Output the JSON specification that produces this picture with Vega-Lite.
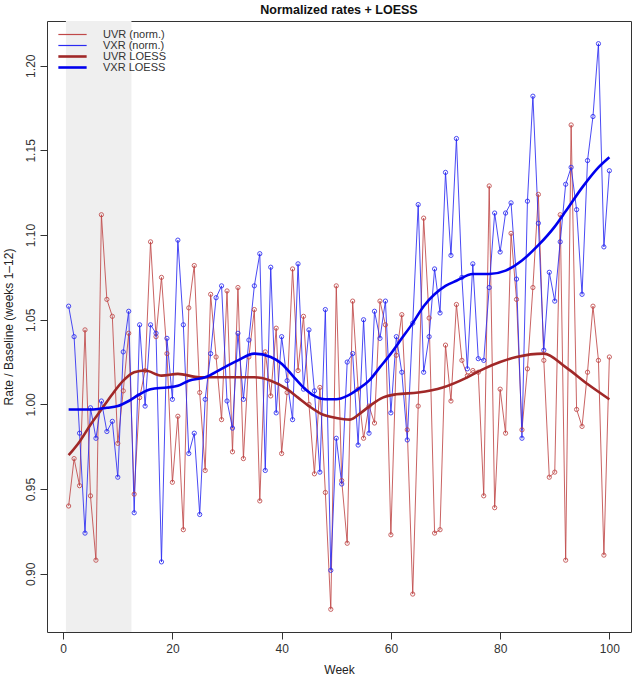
{
  "$schema": "https://vega.github.io/schema/vega-lite/v6.json",
  "width": 584,
  "height": 611,
  "autosize": {"type": "none"},
  "padding": {"left": 47, "top": 21, "right": 7, "bottom": 48},
  "background": "white",
  "title": {"text": "Normalized rates + LOESS", "fontSize": 12.5, "font": "Liberation Sans", "fontWeight": "bold", "color": "#111", "offset": 5},
  "datasets": {
    "band": [{"start": 0.5, "end": 12.5, "lo": 0.8656, "hi": 1.2264}],
    "ref": [{"ref": 1}],
    "norm": [
      {"week":1,"series":"UVR (norm.)","value":0.940},{"week":2,"series":"UVR (norm.)","value":0.968},{"week":3,"series":"UVR (norm.)","value":0.952},{"week":4,"series":"UVR (norm.)","value":1.044},{"week":5,"series":"UVR (norm.)","value":0.946},
      {"week":6,"series":"UVR (norm.)","value":0.908},{"week":7,"series":"UVR (norm.)","value":1.112},{"week":8,"series":"UVR (norm.)","value":1.062},{"week":9,"series":"UVR (norm.)","value":1.052},{"week":10,"series":"UVR (norm.)","value":0.977},
      {"week":11,"series":"UVR (norm.)","value":1.008},{"week":12,"series":"UVR (norm.)","value":1.042},{"week":13,"series":"UVR (norm.)","value":0.947},{"week":14,"series":"UVR (norm.)","value":1.004},{"week":15,"series":"UVR (norm.)","value":1.020},
      {"week":16,"series":"UVR (norm.)","value":1.096},{"week":17,"series":"UVR (norm.)","value":1.040},{"week":18,"series":"UVR (norm.)","value":1.075},{"week":19,"series":"UVR (norm.)","value":1.030},{"week":20,"series":"UVR (norm.)","value":0.954},
      {"week":21,"series":"UVR (norm.)","value":0.993},{"week":22,"series":"UVR (norm.)","value":0.926},{"week":23,"series":"UVR (norm.)","value":1.057},{"week":24,"series":"UVR (norm.)","value":1.082},{"week":25,"series":"UVR (norm.)","value":1.007},
      {"week":26,"series":"UVR (norm.)","value":0.961},{"week":27,"series":"UVR (norm.)","value":1.065},{"week":28,"series":"UVR (norm.)","value":1.028},{"week":29,"series":"UVR (norm.)","value":0.991},{"week":30,"series":"UVR (norm.)","value":1.067},
      {"week":31,"series":"UVR (norm.)","value":0.972},{"week":32,"series":"UVR (norm.)","value":1.069},{"week":33,"series":"UVR (norm.)","value":0.968},{"week":34,"series":"UVR (norm.)","value":1.028},{"week":35,"series":"UVR (norm.)","value":1.056},
      {"week":36,"series":"UVR (norm.)","value":0.943},{"week":37,"series":"UVR (norm.)","value":1.031},{"week":38,"series":"UVR (norm.)","value":1.005},{"week":39,"series":"UVR (norm.)","value":1.045},{"week":40,"series":"UVR (norm.)","value":0.971},
      {"week":41,"series":"UVR (norm.)","value":1.007},{"week":42,"series":"UVR (norm.)","value":1.080},{"week":43,"series":"UVR (norm.)","value":1.020},{"week":44,"series":"UVR (norm.)","value":1.052},{"week":45,"series":"UVR (norm.)","value":1.000},
      {"week":46,"series":"UVR (norm.)","value":0.959},{"week":47,"series":"UVR (norm.)","value":1.010},{"week":48,"series":"UVR (norm.)","value":0.948},{"week":49,"series":"UVR (norm.)","value":0.879},{"week":50,"series":"UVR (norm.)","value":1.070},
      {"week":51,"series":"UVR (norm.)","value":0.955},{"week":52,"series":"UVR (norm.)","value":0.918},{"week":53,"series":"UVR (norm.)","value":1.061},{"week":54,"series":"UVR (norm.)","value":1.009},{"week":55,"series":"UVR (norm.)","value":0.980},
      {"week":56,"series":"UVR (norm.)","value":0.999},{"week":57,"series":"UVR (norm.)","value":0.989},{"week":58,"series":"UVR (norm.)","value":1.061},{"week":59,"series":"UVR (norm.)","value":1.047},{"week":60,"series":"UVR (norm.)","value":0.923},
      {"week":61,"series":"UVR (norm.)","value":1.029},{"week":62,"series":"UVR (norm.)","value":1.053},{"week":63,"series":"UVR (norm.)","value":0.985},{"week":64,"series":"UVR (norm.)","value":0.888},{"week":65,"series":"UVR (norm.)","value":0.999},
      {"week":66,"series":"UVR (norm.)","value":1.110},{"week":67,"series":"UVR (norm.)","value":1.051},{"week":68,"series":"UVR (norm.)","value":0.924},{"week":69,"series":"UVR (norm.)","value":0.926},{"week":70,"series":"UVR (norm.)","value":1.035},
      {"week":71,"series":"UVR (norm.)","value":1.002},{"week":72,"series":"UVR (norm.)","value":1.059},{"week":73,"series":"UVR (norm.)","value":1.026},{"week":74,"series":"UVR (norm.)","value":1.017},{"week":75,"series":"UVR (norm.)","value":1.020},
      {"week":76,"series":"UVR (norm.)","value":1.019},{"week":77,"series":"UVR (norm.)","value":0.946},{"week":78,"series":"UVR (norm.)","value":1.129},{"week":79,"series":"UVR (norm.)","value":0.939},{"week":80,"series":"UVR (norm.)","value":1.009},
      {"week":81,"series":"UVR (norm.)","value":0.983},{"week":82,"series":"UVR (norm.)","value":1.101},{"week":83,"series":"UVR (norm.)","value":1.062},{"week":84,"series":"UVR (norm.)","value":0.985},{"week":85,"series":"UVR (norm.)","value":1.021},
      {"week":86,"series":"UVR (norm.)","value":1.069},{"week":87,"series":"UVR (norm.)","value":1.124},{"week":88,"series":"UVR (norm.)","value":1.026},{"week":89,"series":"UVR (norm.)","value":0.957},{"week":90,"series":"UVR (norm.)","value":0.960},
      {"week":91,"series":"UVR (norm.)","value":1.112},{"week":92,"series":"UVR (norm.)","value":0.908},{"week":93,"series":"UVR (norm.)","value":1.165},{"week":94,"series":"UVR (norm.)","value":0.997},{"week":95,"series":"UVR (norm.)","value":0.987},
      {"week":96,"series":"UVR (norm.)","value":1.019},{"week":97,"series":"UVR (norm.)","value":1.058},{"week":98,"series":"UVR (norm.)","value":1.026},{"week":99,"series":"UVR (norm.)","value":0.911},{"week":100,"series":"UVR (norm.)","value":1.028},
      {"week":1,"series":"VXR (norm.)","value":1.058},{"week":2,"series":"VXR (norm.)","value":1.040},{"week":3,"series":"VXR (norm.)","value":0.983},{"week":4,"series":"VXR (norm.)","value":0.924},{"week":5,"series":"VXR (norm.)","value":0.998},
      {"week":6,"series":"VXR (norm.)","value":0.980},{"week":7,"series":"VXR (norm.)","value":1.002},{"week":8,"series":"VXR (norm.)","value":0.984},{"week":9,"series":"VXR (norm.)","value":0.990},{"week":10,"series":"VXR (norm.)","value":0.957},
      {"week":11,"series":"VXR (norm.)","value":1.031},{"week":12,"series":"VXR (norm.)","value":1.055},{"week":13,"series":"VXR (norm.)","value":0.936},{"week":14,"series":"VXR (norm.)","value":1.047},{"week":15,"series":"VXR (norm.)","value":0.999},
      {"week":16,"series":"VXR (norm.)","value":1.047},{"week":17,"series":"VXR (norm.)","value":1.042},{"week":18,"series":"VXR (norm.)","value":0.907},{"week":19,"series":"VXR (norm.)","value":1.039},{"week":20,"series":"VXR (norm.)","value":1.003},
      {"week":21,"series":"VXR (norm.)","value":1.097},{"week":22,"series":"VXR (norm.)","value":1.047},{"week":23,"series":"VXR (norm.)","value":0.971},{"week":24,"series":"VXR (norm.)","value":0.983},{"week":25,"series":"VXR (norm.)","value":0.935},
      {"week":26,"series":"VXR (norm.)","value":1.003},{"week":27,"series":"VXR (norm.)","value":1.030},{"week":28,"series":"VXR (norm.)","value":1.063},{"week":29,"series":"VXR (norm.)","value":1.070},{"week":30,"series":"VXR (norm.)","value":1.002},
      {"week":31,"series":"VXR (norm.)","value":0.986},{"week":32,"series":"VXR (norm.)","value":1.042},{"week":33,"series":"VXR (norm.)","value":1.003},{"week":34,"series":"VXR (norm.)","value":1.038},{"week":35,"series":"VXR (norm.)","value":1.070},
      {"week":36,"series":"VXR (norm.)","value":1.089},{"week":37,"series":"VXR (norm.)","value":0.961},{"week":38,"series":"VXR (norm.)","value":1.081},{"week":39,"series":"VXR (norm.)","value":0.995},{"week":40,"series":"VXR (norm.)","value":1.040},
      {"week":41,"series":"VXR (norm.)","value":1.014},{"week":42,"series":"VXR (norm.)","value":0.991},{"week":43,"series":"VXR (norm.)","value":1.083},{"week":44,"series":"VXR (norm.)","value":1.009},{"week":45,"series":"VXR (norm.)","value":1.044},
      {"week":46,"series":"VXR (norm.)","value":1.008},{"week":47,"series":"VXR (norm.)","value":0.960},{"week":48,"series":"VXR (norm.)","value":1.056},{"week":49,"series":"VXR (norm.)","value":0.902},{"week":50,"series":"VXR (norm.)","value":0.980},
      {"week":51,"series":"VXR (norm.)","value":0.953},{"week":52,"series":"VXR (norm.)","value":1.025},{"week":53,"series":"VXR (norm.)","value":1.030},{"week":54,"series":"VXR (norm.)","value":0.976},{"week":55,"series":"VXR (norm.)","value":1.050},
      {"week":56,"series":"VXR (norm.)","value":0.983},{"week":57,"series":"VXR (norm.)","value":1.055},{"week":58,"series":"VXR (norm.)","value":1.039},{"week":59,"series":"VXR (norm.)","value":1.061},{"week":60,"series":"VXR (norm.)","value":0.995},
      {"week":61,"series":"VXR (norm.)","value":1.040},{"week":62,"series":"VXR (norm.)","value":1.019},{"week":63,"series":"VXR (norm.)","value":0.979},{"week":64,"series":"VXR (norm.)","value":1.048},{"week":65,"series":"VXR (norm.)","value":1.118},
      {"week":66,"series":"VXR (norm.)","value":1.019},{"week":67,"series":"VXR (norm.)","value":1.040},{"week":68,"series":"VXR (norm.)","value":1.080},{"week":69,"series":"VXR (norm.)","value":1.054},{"week":70,"series":"VXR (norm.)","value":1.137},
      {"week":71,"series":"VXR (norm.)","value":1.088},{"week":72,"series":"VXR (norm.)","value":1.157},{"week":73,"series":"VXR (norm.)","value":1.075},{"week":74,"series":"VXR (norm.)","value":1.021},{"week":75,"series":"VXR (norm.)","value":1.083},
      {"week":76,"series":"VXR (norm.)","value":1.027},{"week":77,"series":"VXR (norm.)","value":1.026},{"week":78,"series":"VXR (norm.)","value":1.069},{"week":79,"series":"VXR (norm.)","value":1.113},{"week":80,"series":"VXR (norm.)","value":1.090},
      {"week":81,"series":"VXR (norm.)","value":1.113},{"week":82,"series":"VXR (norm.)","value":1.119},{"week":83,"series":"VXR (norm.)","value":1.074},{"week":84,"series":"VXR (norm.)","value":0.980},{"week":85,"series":"VXR (norm.)","value":1.120},
      {"week":86,"series":"VXR (norm.)","value":1.182},{"week":87,"series":"VXR (norm.)","value":1.107},{"week":88,"series":"VXR (norm.)","value":1.032},{"week":89,"series":"VXR (norm.)","value":1.078},{"week":90,"series":"VXR (norm.)","value":1.061},
      {"week":91,"series":"VXR (norm.)","value":1.096},{"week":92,"series":"VXR (norm.)","value":1.130},{"week":93,"series":"VXR (norm.)","value":1.140},{"week":94,"series":"VXR (norm.)","value":1.115},{"week":95,"series":"VXR (norm.)","value":1.065},
      {"week":96,"series":"VXR (norm.)","value":1.144},{"week":97,"series":"VXR (norm.)","value":1.170},{"week":98,"series":"VXR (norm.)","value":1.213},{"week":99,"series":"VXR (norm.)","value":1.093},{"week":100,"series":"VXR (norm.)","value":1.138}
    ],
    "smooth": [
      {"week":1,"series":"UVR LOESS","value":0.970},{"week":3,"series":"UVR LOESS","value":0.978},{"week":5,"series":"UVR LOESS","value":0.988},{"week":7,"series":"UVR LOESS","value":0.997},
      {"week":9,"series":"UVR LOESS","value":1.006},{"week":11,"series":"UVR LOESS","value":1.014},{"week":13,"series":"UVR LOESS","value":1.019},{"week":15,"series":"UVR LOESS","value":1.020},
      {"week":18,"series":"UVR LOESS","value":1.017},{"week":21,"series":"UVR LOESS","value":1.018},{"week":25,"series":"UVR LOESS","value":1.016},{"week":30,"series":"UVR LOESS","value":1.016},
      {"week":35,"series":"UVR LOESS","value":1.016},{"week":38,"series":"UVR LOESS","value":1.014},{"week":41,"series":"UVR LOESS","value":1.009},{"week":43,"series":"UVR LOESS","value":1.004},
      {"week":45,"series":"UVR LOESS","value":0.999},{"week":47.5,"series":"UVR LOESS","value":0.994},{"week":50,"series":"UVR LOESS","value":0.992},{"week":52.5,"series":"UVR LOESS","value":0.991},
      {"week":54.5,"series":"UVR LOESS","value":0.995},{"week":56.5,"series":"UVR LOESS","value":1.000},{"week":58.5,"series":"UVR LOESS","value":1.004},{"week":61,"series":"UVR LOESS","value":1.006},
      {"week":65,"series":"UVR LOESS","value":1.007},{"week":69.5,"series":"UVR LOESS","value":1.010},{"week":74,"series":"UVR LOESS","value":1.016},{"week":77,"series":"UVR LOESS","value":1.021},
      {"week":80,"series":"UVR LOESS","value":1.025},{"week":83,"series":"UVR LOESS","value":1.028},{"week":88,"series":"UVR LOESS","value":1.030},{"week":92,"series":"UVR LOESS","value":1.022},
      {"week":96,"series":"UVR LOESS","value":1.012},{"week":100,"series":"UVR LOESS","value":1.003},
      {"week":1,"series":"VXR LOESS","value":0.997},{"week":5,"series":"VXR LOESS","value":0.997},{"week":8,"series":"VXR LOESS","value":0.998},{"week":10,"series":"VXR LOESS","value":0.999},
      {"week":12,"series":"VXR LOESS","value":1.002},{"week":14,"series":"VXR LOESS","value":1.006},{"week":16,"series":"VXR LOESS","value":1.009},{"week":19,"series":"VXR LOESS","value":1.010},
      {"week":21,"series":"VXR LOESS","value":1.011},{"week":23,"series":"VXR LOESS","value":1.014},{"week":26,"series":"VXR LOESS","value":1.016},{"week":29,"series":"VXR LOESS","value":1.021},
      {"week":32,"series":"VXR LOESS","value":1.026},{"week":35,"series":"VXR LOESS","value":1.030},{"week":38,"series":"VXR LOESS","value":1.028},{"week":40,"series":"VXR LOESS","value":1.024},
      {"week":42,"series":"VXR LOESS","value":1.017},{"week":44,"series":"VXR LOESS","value":1.010},{"week":46,"series":"VXR LOESS","value":1.005},{"week":48,"series":"VXR LOESS","value":1.003},
      {"week":50,"series":"VXR LOESS","value":1.003},{"week":52,"series":"VXR LOESS","value":1.005},{"week":54,"series":"VXR LOESS","value":1.009},{"week":56,"series":"VXR LOESS","value":1.014},
      {"week":58,"series":"VXR LOESS","value":1.022},{"week":60,"series":"VXR LOESS","value":1.030},{"week":62,"series":"VXR LOESS","value":1.039},{"week":64,"series":"VXR LOESS","value":1.048},
      {"week":66,"series":"VXR LOESS","value":1.058},{"week":68,"series":"VXR LOESS","value":1.065},{"week":70,"series":"VXR LOESS","value":1.070},{"week":72,"series":"VXR LOESS","value":1.073},
      {"week":75,"series":"VXR LOESS","value":1.077},{"week":78,"series":"VXR LOESS","value":1.077},{"week":81,"series":"VXR LOESS","value":1.079},{"week":84,"series":"VXR LOESS","value":1.085},
      {"week":87,"series":"VXR LOESS","value":1.094},{"week":90,"series":"VXR LOESS","value":1.105},{"week":92,"series":"VXR LOESS","value":1.114},{"week":95,"series":"VXR LOESS","value":1.128},
      {"week":98,"series":"VXR LOESS","value":1.140},{"week":100,"series":"VXR LOESS","value":1.146}
    ]
  },
  "layer": [
    {
      "data": {"name": "band"},
      "mark": {"type": "rect", "color": "#efefef"},
      "encoding": {
        "x": {"field": "start", "type": "quantitative", "scale": {"domain": [-2.96, 103.96], "nice": false, "zero": false}},
        "x2": {"field": "end"},
        "y": {"field": "lo", "type": "quantitative"},
        "y2": {"field": "hi"}
      }
    },
    {
      "data": {"name": "ref"},
      "mark": {"type": "rule", "color": "#888", "strokeWidth": 1, "strokeDash": [1.5, 2]},
      "encoding": {
        "y": {"field": "ref", "type": "quantitative"}
      }
    },
    {
      "data": {"name": "norm"},
      "mark": {"type": "line", "strokeWidth": 1, "opacity": 0.85},
      "encoding": {
        "x": {"field": "week", "type": "quantitative"},
        "y": {"field": "value", "type": "quantitative"},
        "color": {
          "field": "series", "type": "nominal",
          "scale": {"domain": ["UVR (norm.)", "VXR (norm.)", "UVR LOESS", "VXR LOESS"], "range": ["#c04848", "#2a2af2", "#a02828", "#0000ee"]},
          "legend": {
            "orient": "none", "legendX": 20, "legendY": 8, "title": null,
            "symbolType": "stroke", "symbolSize": 800, "symbolOpacity": 1,
            "labelFontSize": 11, "labelFont": "Liberation Sans", "labelColor": "#333", "labelOffset": 25, "rowPadding": -3,
            "encode": {"symbols": {"update": {
              "stroke": {"scale": "color", "field": "value"},
              "strokeWidth": {"signal": "indexof(['UVR LOESS', 'VXR LOESS'], datum.value) >= 0 ? 2.6 : 1.2"}
            }}}
          }
        }
      }
    },
    {
      "data": {"name": "norm"},
      "mark": {"type": "point", "shape": "circle", "filled": false, "size": 18, "strokeWidth": 1, "opacity": 0.85},
      "encoding": {
        "x": {"field": "week", "type": "quantitative"},
        "y": {"field": "value", "type": "quantitative"},
        "color": {"field": "series", "type": "nominal"}
      }
    },
    {
      "data": {"name": "smooth"},
      "mark": {"type": "line", "interpolate": "monotone", "strokeWidth": 2.6},
      "encoding": {
        "x": {"field": "week", "type": "quantitative"},
        "y": {"field": "value", "type": "quantitative"},
        "color": {"field": "series", "type": "nominal"}
      }
    }
  ],
  "encoding": {
    "x": {
      "field": "week", "type": "quantitative", "title": "Week",
      "scale": {"domain": [-2.96, 103.96], "nice": false, "zero": false},
      "axis": {"values": [0, 20, 40, 60, 80, 100], "grid": false, "domain": false, "tickSize": 7, "labelPadding": 4, "titlePadding": 10}
    },
    "y": {
      "field": "value", "type": "quantitative", "title": "Rate / Baseline (weeks 1–12)",
      "scale": {"domain": [0.8656, 1.2264], "nice": false, "zero": false},
      "axis": {"values": [0.9, 0.95, 1.0, 1.05, 1.1, 1.15, 1.2], "format": ".2f", "grid": false, "domain": false, "tickSize": 7, "labelAngle": 270, "labelAlign": "center", "labelBaseline": "bottom", "labelPadding": 3, "titlePadding": 9}
    }
  },
  "config": {
    "view": {"stroke": "#333", "strokeWidth": 1},
    "axis": {"labelFont": "Liberation Sans", "titleFont": "Liberation Sans", "labelFontSize": 12, "titleFontSize": 12, "titleFontWeight": "normal", "labelColor": "#333", "titleColor": "#222", "tickColor": "#333"}
  }
}
